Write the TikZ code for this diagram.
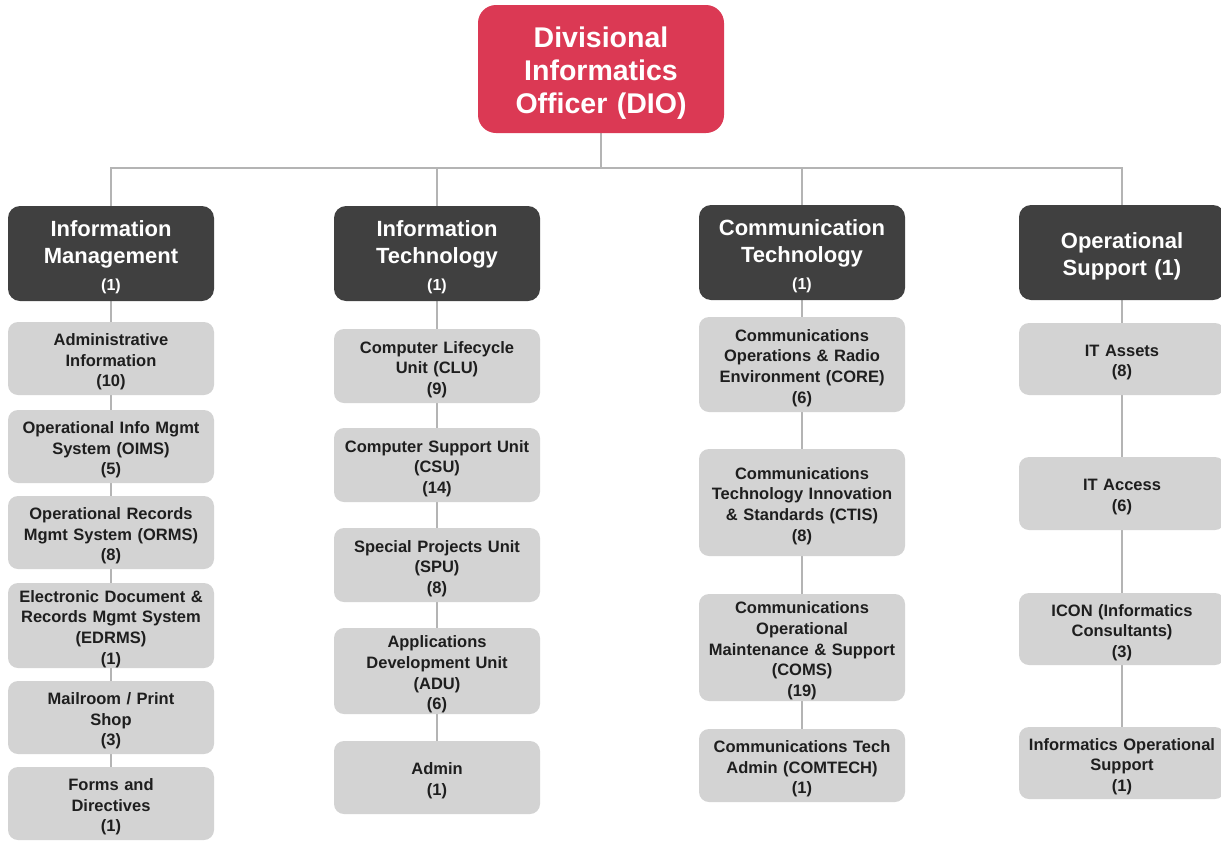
\documentclass[tikz,border=0pt]{standalone}
\usepackage{fontspec}
\setmainfont{Liberation Sans}
\usetikzlibrary{backgrounds}
\definecolor{dioRed}{HTML}{DB3954}
\definecolor{headDark}{HTML}{404040}
\definecolor{unitGray}{HTML}{D3D3D3}
\definecolor{linkGray}{HTML}{B4B4B4}
\definecolor{textDark}{HTML}{1E1E1E}
\newcommand{\headcount}[1]{{\fontsize{16}{27}\selectfont #1}}
% lowers a text block inside its box by half the given amount
\newcommand{\lowerby}[1]{\par\vspace*{-#1}}
\begin{document}
\begin{tikzpicture}[x=1pt,y=-1pt,
  dio/.style={fill=dioRed, rounded corners=18pt, minimum width=246pt, minimum height=128pt,
    text width=240pt, align=center, inner sep=0pt, text=white,
    execute at end node={\lowerby{8pt}},
    font=\fontsize{28.5}{33}\selectfont\bfseries},
  head/.style={fill=headDark, rounded corners=12pt, minimum width=206pt, minimum height=95pt,
    text width=204pt, align=center, inner sep=0pt, text=white,
    execute at end node={\lowerby{7pt}},
    font=\fontsize{22}{27}\selectfont\bfseries},
  unit/.style={fill=unitGray, rounded corners=10pt, minimum width=206pt,
    text width=204pt, align=center, inner sep=0pt, text=textDark,
    execute at end node={\lowerby{7pt}},
    font=\fontsize{16.5}{20.7}\selectfont\bfseries},
  link/.style={draw=linkGray, line width=1.6pt}]
\useasboundingbox (0,0) rectangle (1221,841);
\clip (0,0) rectangle (1221,841);

% top of the chart
\node[dio] (dio) at (601,69) {Divisional\\Informatics\\Officer (DIO)};
\coordinate (bus) at (601,168);

% division heads
\node[head] (hIM) at (111,253.5) {Information\\Management\\\headcount{(1)}};
\node[head] (hIT) at (437,253.5) {Information\\Technology\\\headcount{(1)}};
\node[head] (hCT) at (802,252.5) {Communication\\Technology\\\headcount{(1)}};
\node[head] (hOS) at (1122,252.5) {Operational\\Support (1)};

% Information Management units
\node[unit, minimum height=73pt] (a1) at (111,358.5) {Administrative\\Information\\(10)};
\node[unit, minimum height=73pt] (a2) at (111,446.5) {Operational Info Mgmt\\System (OIMS)\\(5)};
\node[unit, minimum height=73pt] (a3) at (111,532.5) {Operational Records\\Mgmt System (ORMS)\\(8)};
\node[unit, minimum height=85pt] (a4) at (111,625.5) {Electronic Document \&\\Records Mgmt System\\(EDRMS)\\(1)};
\node[unit, minimum height=73pt] (a5) at (111,717.5) {Mailroom / Print\\Shop\\(3)};
\node[unit, minimum height=73pt] (a6) at (111,803.5) {Forms and\\Directives\\(1)};

% Information Technology units
\node[unit, minimum height=74pt] (b1) at (437,366) {Computer Lifecycle\\Unit (CLU)\\(9)};
\node[unit, minimum height=74pt] (b2) at (437,465) {Computer Support Unit\\(CSU)\\(14)};
\node[unit, minimum height=74pt] (b3) at (437,565) {Special Projects Unit\\(SPU)\\(8)};
\node[unit, minimum height=86pt] (b4) at (437,671) {Applications\\Development Unit\\(ADU)\\(6)};
\node[unit, minimum height=73pt] (b5) at (437,777.5) {Admin\\(1)};

% Communication Technology units
\node[unit, minimum height=95pt] (c1) at (802,364.5) {Communications\\Operations \& Radio\\Environment (CORE)\\(6)};
\node[unit, minimum height=107pt] (c2) at (802,502.5) {Communications\\Technology Innovation\\\& Standards (CTIS)\\(8)};
\node[unit, minimum height=107pt] (c3) at (802,647.5) {Communications\\Operational\\Maintenance \& Support\\(COMS)\\(19)};
\node[unit, minimum height=73pt] (c4) at (802,765.5) {Communications Tech\\Admin (COMTECH)\\(1)};

% Operational Support units
\node[unit, minimum height=72pt] (d1) at (1122,359) {IT Assets\\(8)};
\node[unit, minimum height=73pt] (d2) at (1122,493.5) {IT Access\\(6)};
\node[unit, minimum height=72pt] (d3) at (1122,629) {ICON (Informatics\\Consultants)\\(3)};
\node[unit, minimum height=72pt] (d4) at (1122,763) {Informatics Operational\\Support\\(1)};

% connectors, drawn beneath the boxes
\begin{pgfonlayer}{background}
  \draw[link] (dio.south) -- (bus);
  \draw[link] (hIM.north) |- (bus) -| (hOS.north);
  \draw[link] (hIT.north) -- (hIT.north |- bus);
  \draw[link] (hCT.north) -- (hCT.north |- bus);
  \draw[link, line width=1.2pt] (hIM.south) -- (a1.north) (a1.south) -- (a2.north)
    (a2.south) -- (a3.north) (a3.south) -- (a4.north) (a4.south) -- (a5.north)
    (a5.south) -- (a6.north);
  \draw[link, line width=1.2pt] (hIT.south) -- (b1.north) (b1.south) -- (b2.north)
    (b2.south) -- (b3.north) (b3.south) -- (b4.north) (b4.south) -- (b5.north);
  \draw[link, line width=1.2pt] (hCT.south) -- (c1.north) (c1.south) -- (c2.north)
    (c2.south) -- (c3.north) (c3.south) -- (c4.north);
  \draw[link, line width=1.2pt] (hOS.south) -- (d1.north) (d1.south) -- (d2.north)
    (d2.south) -- (d3.north) (d3.south) -- (d4.north);
\end{pgfonlayer}
\end{tikzpicture}
\end{document}
